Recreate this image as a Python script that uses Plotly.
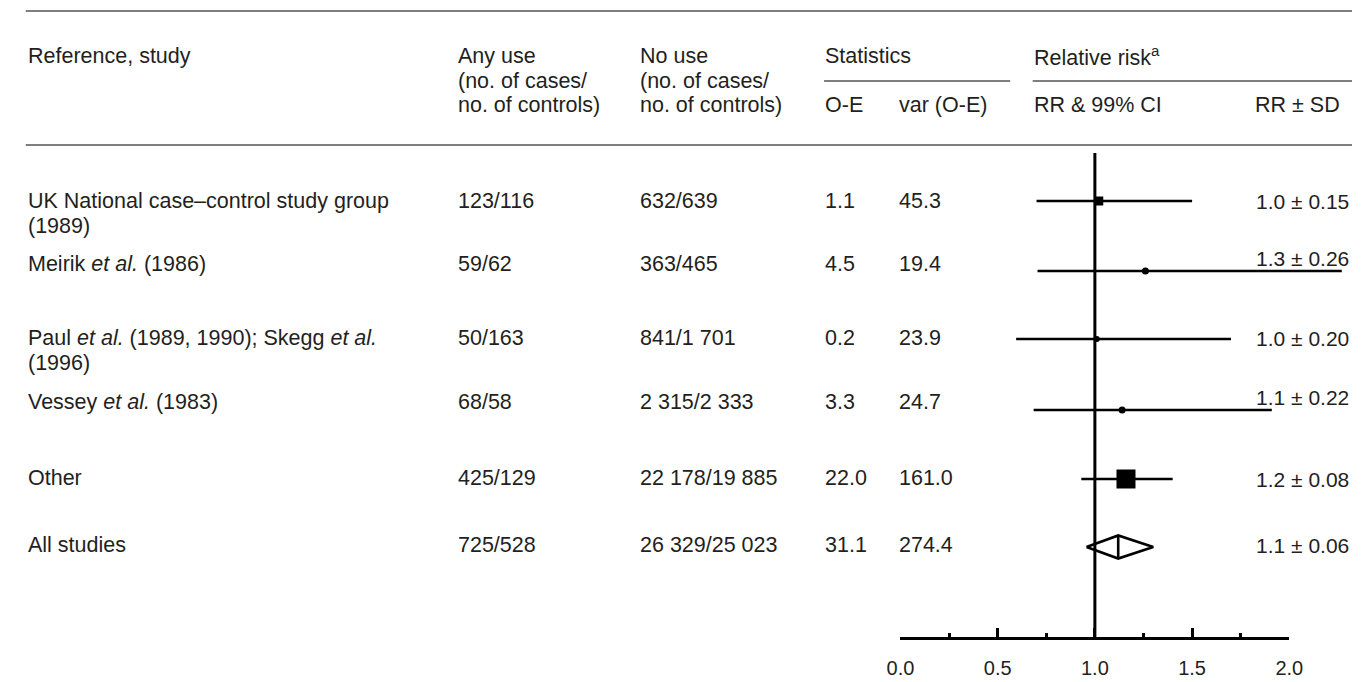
import plotly.graph_objects as go

# ---- table data ----
studies = [
    "UK National case–control study group",
    "Meirik <i>et al.</i> (1986)",
    "Paul <i>et al.</i> (1989, 1990); Skegg <i>et al.</i>",
    "Vessey <i>et al.</i> (1983)",
    "Other",
    "All studies",
]
studies_line2 = ["(1989)", "", "(1996)", "", "", ""]
any_use = ["123/116", "59/62", "50/163", "68/58", "425/129", "725/528"]
no_use = ["632/639", "363/465", "841/1 701", "2 315/2 333", "22 178/19 885", "26 329/25 023"]
o_minus_e = [1.1, 4.5, 0.2, 3.3, 22.0, 31.1]
var_o_minus_e = [45.3, 19.4, 23.9, 24.7, 161.0, 274.4]

# ---- relative risks ----
rr = [1.02, 1.26, 1.01, 1.14, 1.16, 1.12]
rr_sd = [0.15, 0.26, 0.20, 0.22, 0.08, 0.06]
ci_low = [0.70, 0.705, 0.595, 0.685, 0.93, 0.957]
ci_high = [1.50, 2.27, 1.70, 1.91, 1.40, 1.30]

axis_ticks = [0.0, 0.5, 1.0, 1.5, 2.0]
axis_minor = [0.25, 0.75, 1.25, 1.75]

# ---- layout geometry (pixels) ----
W, H = 1366, 682
X_AT_0, X_AT_2 = 905, 1302           # pixel positions of RR = 0 and RR = 2
PX_PER_UNIT = (X_AT_2 - X_AT_0) / 2.0
AXIS_Y = 637

row_text_y = [201, 264, 338, 402, 478, 545]
row_label_y = [201, 258, 338, 397, 479, 545]
row_line_y = [201, 271, 339, 410, 479, 547]
LINE2_DY = 25

col_study = 13
col_any = 452
col_no = 638
col_oe = 827
col_var = 903
col_rr = 1040
col_sd = 1266
col_right = 1364

FONT = "Liberation Sans, Arial, Helvetica, sans-serif"
TXT = "#231f20"
FS = 21.5

fig = go.Figure()

# confidence interval bars
ci_x, ci_y = [], []
for i in range(len(rr) - 1):
    ci_x += [ci_low[i], ci_high[i], None]
    ci_y += [row_line_y[i], row_line_y[i], None]
fig.add_trace(go.Scatter(x=ci_x, y=ci_y, mode="lines",
                         line=dict(color="black", width=2.6),
                         hoverinfo="skip", showlegend=False))

# reference line at RR = 1
fig.add_trace(go.Scatter(x=[1.0, 1.0], y=[153, AXIS_Y], mode="lines",
                         line=dict(color="black", width=3),
                         hoverinfo="skip", showlegend=False))

# point estimates
marker_symbols = ["square", "circle", "circle", "circle", "square"]
marker_sizes = [9, 7, 6, 7, 19]
fig.add_trace(go.Scatter(x=rr[:-1], y=row_line_y[:-1], mode="markers",
                         marker=dict(symbol=marker_symbols, size=marker_sizes,
                                     color="black", opacity=1, line=dict(width=0)),
                         hoverinfo="skip", showlegend=False))

# pooled estimate diamond
k = len(rr) - 1
half_h = 11.5
yc = row_line_y[k]
fig.add_trace(go.Scatter(
    x=[ci_low[k], rr[k], ci_high[k], rr[k], ci_low[k], None, rr[k], rr[k]],
    y=[yc, yc - half_h, yc, yc + half_h, yc, None, yc - half_h, yc + half_h],
    mode="lines", line=dict(color="black", width=2.6),
    hoverinfo="skip", showlegend=False))

# invisible trace to carry the RR axis
fig.add_trace(go.Scatter(x=[0, 2], y=[0, 0], xaxis="x2", yaxis="y2", mode="markers",
                         marker=dict(opacity=0), hoverinfo="skip", showlegend=False))

ann = []


def txt(x, y, s, anchor="left", size=FS):
    ann.append(dict(x=x / W, y=y, xref="paper", yref="y", text=s, showarrow=False,
                    xanchor=anchor, yanchor="middle", borderpad=0,
                    font=dict(family=FONT, size=size, color=TXT)))


# header
HY1, HY2, HY3 = 56, 80.5, 105
txt(col_study, HY1, "Reference, study")
txt(col_any, HY1, "Any use")
txt(col_any, HY2, "(no. of cases/")
txt(col_any, HY3, "no. of controls)")
txt(col_no, HY1, "No use")
txt(col_no, HY2, "(no. of cases/")
txt(col_no, HY3, "no. of controls)")
txt(col_oe, HY1, "Statistics")
txt(col_oe, HY3, "O-E")
txt(col_var, HY3, "var (O-E)")
txt(col_rr, HY1, "Relative risk<sup>a</sup>")
txt(col_rr, HY3, "RR &amp; 99% CI")
txt(col_sd, HY3, "RR ± SD")

# body rows
for i in range(len(studies)):
    y = row_text_y[i]
    txt(col_study, y, studies[i])
    if studies_line2[i]:
        txt(col_study, y + LINE2_DY, studies_line2[i])
    txt(col_any, y, any_use[i])
    txt(col_no, y, no_use[i])
    txt(col_oe, y, f"{o_minus_e[i]:.1f}")
    txt(col_var, y, f"{var_o_minus_e[i]:.1f}")
    txt(col_right, row_label_y[i], f"{rr[i]:.1f} ± {rr_sd[i]:.2f}", anchor="right", size=21)

RULE = dict(color="#555555", width=1.6)
shapes = [
    dict(type="line", xref="paper", yref="y", x0=12 / W, x1=1, y0=11, y1=11, line=RULE),
    dict(type="line", xref="paper", yref="y", x0=12 / W, x1=1, y0=145, y1=145, line=RULE),
    dict(type="line", xref="paper", yref="y", x0=col_oe / W, x1=1017 / W, y0=81, y1=81, line=RULE),
    dict(type="line", xref="paper", yref="y", x0=col_rr / W, x1=1, y0=81, y1=81, line=RULE),
]

x_lo = -X_AT_0 / PX_PER_UNIT
x_hi = (W - X_AT_0) / PX_PER_UNIT

fig.update_layout(
    width=W, height=H,
    margin=dict(l=0, r=0, t=0, b=0),
    paper_bgcolor="white", plot_bgcolor="rgba(0,0,0,0)",
    showlegend=False,
    annotations=ann,
    shapes=shapes,
    xaxis=dict(domain=[0, 1], range=[x_lo, x_hi], visible=False, fixedrange=True),
    yaxis=dict(domain=[0, 1], range=[H, 0], visible=False, fixedrange=True),
    xaxis2=dict(domain=[X_AT_0 / W, X_AT_2 / W], range=[0, 2], anchor="y2",
                showline=True, linecolor="black", linewidth=2.6,
                ticks="inside", ticklen=9, tickwidth=2.6, tickcolor="black",
                tickvals=axis_ticks, ticktext=[f"{v:.1f}" for v in axis_ticks],
                minor=dict(tickvals=axis_minor, ticks="inside", ticklen=4,
                           tickwidth=2.6, tickcolor="black"),
                ticklabelstandoff=11,
                tickfont=dict(family=FONT, size=20, color=TXT),
                showgrid=False, zeroline=False, fixedrange=True),
    yaxis2=dict(domain=[(H - AXIS_Y) / H, 1], range=[0, 1], visible=False, fixedrange=True),
)

fig.write_html("out.html")
